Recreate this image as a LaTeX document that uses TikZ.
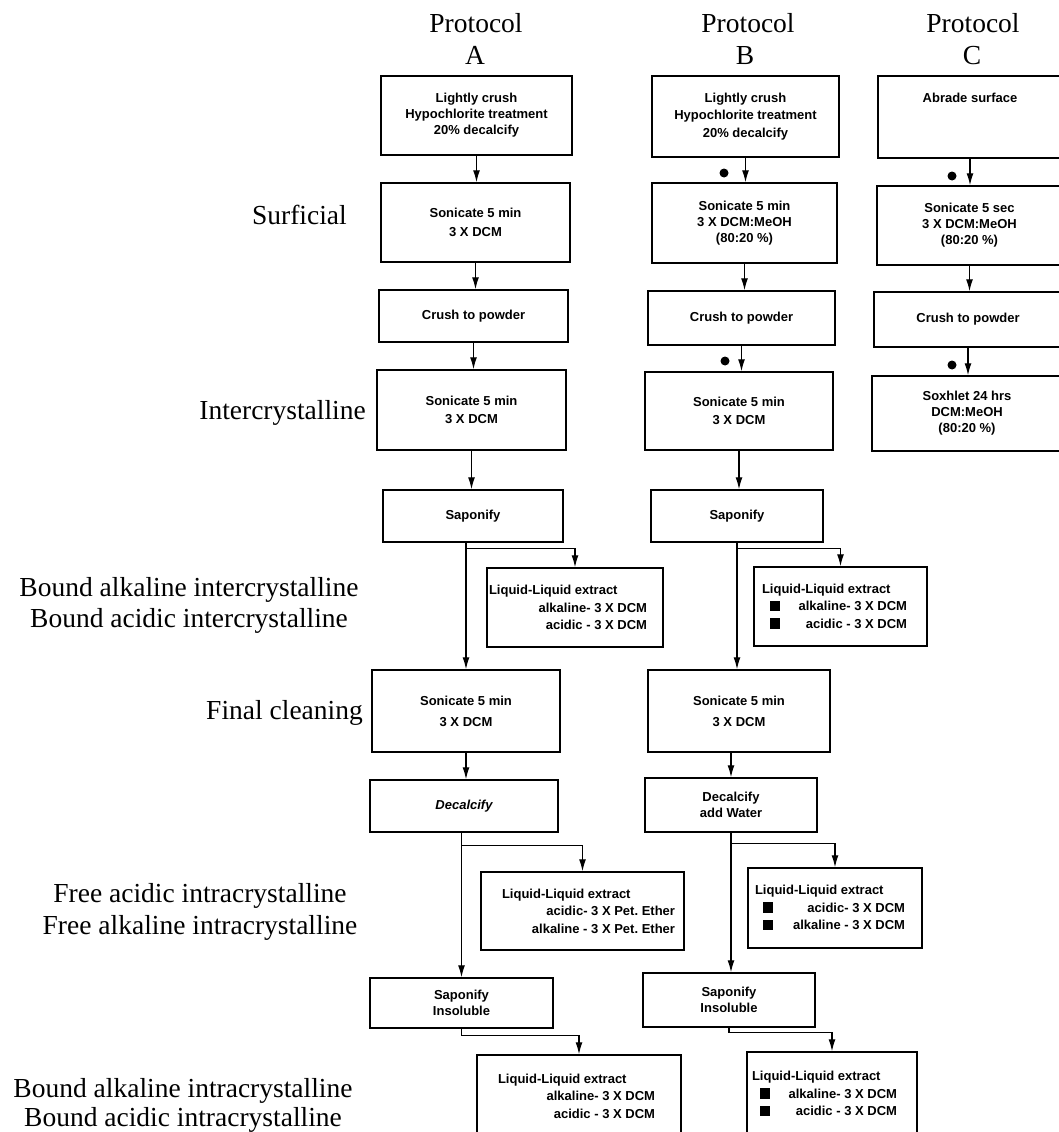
\documentclass[tikz,border=0pt]{standalone}
\usepackage{fontspec}
\usetikzlibrary{arrows.meta,calc}
\newfontfamily\bxfam{Liberation Sans}
\newfontfamily\serfam{Liberation Serif}
\newcommand\bxfont{\bxfam\bfseries\fontsize{13}{16}\selectfont}
\newcommand\llefnt{\bxfam\bfseries\fontsize{13}{17.5}\selectfont}
\newcommand\labfnt{\serfam\fontsize{27.5}{32}\selectfont}
\newcommand\sqm{\rule[-0.5pt]{10pt}{10.5pt}}
\newcommand\llea[6]{\parbox{#1}{\makebox[#1][l]{\hspace{#2}#3}\\\makebox[#1][r]{#5\hspace{#4}}\\\makebox[#1][r]{#6\hspace{#4}}}}
\newcommand\lleb[6]{\parbox{#1}{\makebox[#1][l]{\hspace{#2}Liquid-Liquid extract}\\\makebox[#1][l]{\hspace{#3}\sqm\hfill #5\hspace{#4}}\\\makebox[#1][l]{\hspace{#3}\sqm\hfill #6\hspace{#4}}}}
\tikzset{
  box/.style={draw, line width=1.5pt, rectangle, inner sep=0pt, font=\bxfont, align=center},
  lle/.style={draw, line width=1.5pt, rectangle, inner sep=0pt, font=\llefnt},
  arr/.style={line width=1.2pt, -{Latex[length=12pt,width=7pt]}},
  lab/.style={font=\labfnt, inner sep=0pt},
  dotm/.style={circle, fill, inner sep=0pt, minimum size=9pt}
}
\begin{document}
\begin{tikzpicture}[x=1pt,y=-1pt]
\fill[white] (0,0) rectangle (1058,1132);
\useasboundingbox (0,0) rectangle (1058,1132);

% titles
\node[lab, anchor=base] (tA1) at (476,33) {Protocol};
\node[lab, anchor=base] (tA2) at (475,65) {A};
\node[lab, anchor=base] (tB1) at (748,33) {Protocol};
\node[lab, anchor=base] (tB2) at (745,65) {B};
\node[lab, anchor=base] (tC1) at (973,33) {Protocol};
\node[lab, anchor=base] (tC2) at (972,65) {C};

% left labels
\node[lab, anchor=base east] (lSurf) at (347,224) {Surficial};
\node[lab, anchor=base east] (lInter) at (366,419) {Intercrystalline};
\node[lab, anchor=base] (lBAi) at (189,596) {Bound alkaline intercrystalline};
\node[lab, anchor=base] (lBCi) at (189,627) {Bound acidic intercrystalline};
\node[lab, anchor=base east] (lFinal) at (363,719) {Final cleaning};
\node[lab, anchor=base] (lFA) at (200,902) {Free acidic intracrystalline};
\node[lab, anchor=base] (lFL) at (200,934) {Free alkaline intracrystalline};
\node[lab, anchor=base] (lBAa) at (183,1097) {Bound alkaline intracrystalline};
\node[lab, anchor=base] (lBCa) at (183,1126) {Bound acidic intracrystalline};

% column A
\node[box, minimum width=191pt, minimum height=79pt] (A1) at (476.5,115.5) {Lightly crush\\Hypochlorite treatment\\20\% decalcify};
\node[box, minimum width=189pt, minimum height=79pt] (A2) at (475.5,222.5) {Sonicate 5 min\\[3pt]3 X DCM};
\node[box, minimum width=189pt, minimum height=52pt] (A3) at (473.5,316) {Crush to powder};
\node[box, minimum width=189pt, minimum height=80pt] (A4) at (471.5,410) {Sonicate 5 min\\[2pt]3 X DCM};
\node[box, minimum width=180pt, minimum height=52pt] (A5) at (473,516) {Saponify};
\node[lle, minimum width=176pt, minimum height=79pt] (A6) at (575,607.5) {\llea{176pt}{2pt}{Liquid-Liquid extract}{16pt}{alkaline- 3 X DCM}{acidic - 3 X DCM}};
\node[box, minimum width=188pt, minimum height=82pt] (A7) at (466,711) {Sonicate 5 min\\[5pt]3 X DCM};
\node[box, minimum width=188pt, minimum height=52pt] (A8) at (464,806) {\itshape Decalcify};
\node[lle, minimum width=203pt, minimum height=78pt] (A9) at (582.5,911) {\llea{203pt}{21pt}{Liquid-Liquid extract}{9pt}{acidic- 3 X Pet.\ Ether}{alkaline - 3 X Pet.\ Ether}};
\node[box, minimum width=183pt, minimum height=50pt] (A10) at (461.5,1003) {Saponify\\Insoluble};
\node[lle, minimum width=204pt, minimum height=82pt] (A11) at (579,1096) {\llea{204pt}{21pt}{Liquid-Liquid extract}{26pt}{alkaline- 3 X DCM}{acidic - 3 X DCM}};

% column B
\node[box, minimum width=187pt, minimum height=81pt] (B1) at (745.5,116.5) {Lightly crush\\[1.5pt]Hypochlorite treatment\\[1.5pt]20\% decalcify};
\node[box, minimum width=185pt, minimum height=80pt] (B2) at (744.5,223) {Sonicate 5 min\\3 X DCM:MeOH\\(80:20 \%)};
\node[box, minimum width=187pt, minimum height=54pt] (B3) at (741.5,318) {Crush to powder};
\node[box, minimum width=188pt, minimum height=78pt] (B4) at (739,411) {Sonicate 5 min\\[2pt]3 X DCM};
\node[box, minimum width=172pt, minimum height=52pt] (B5) at (737,516) {Saponify};
\node[lle, minimum width=173pt, minimum height=79pt] (B6) at (840.5,606.5) {\lleb{173pt}{8pt}{16pt}{20pt}{alkaline- 3 X DCM}{acidic - 3 X DCM}};
\node[box, minimum width=182pt, minimum height=82pt] (B7) at (739,711) {Sonicate 5 min\\[5pt]3 X DCM};
\node[box, minimum width=172pt, minimum height=54pt] (B8) at (731,805) {Decalcify\\add Water};
\node[lle, minimum width=174pt, minimum height=80pt] (B9) at (835,908) {\lleb{174pt}{7pt}{15pt}{17pt}{acidic- 3 X DCM}{alkaline - 3 X DCM}};
\node[box, minimum width=172pt, minimum height=54pt] (B10) at (729,1000) {Saponify\\Insoluble};
\node[lle, minimum width=170pt, minimum height=84pt] (B11) at (832,1094) {\lleb{170pt}{5pt}{13pt}{20pt}{alkaline- 3 X DCM}{acidic - 3 X DCM}};

% column C
\node[box, minimum width=184pt, minimum height=82pt] (C1) at (970,117) {\raisebox{14pt}[0pt][0pt]{Abrade surface}};
\node[box, minimum width=185pt, minimum height=79pt] (C2) at (969.5,225.5) {Sonicate 5 sec\\3 X DCM:MeOH\\(80:20 \%)};
\node[box, minimum width=188pt, minimum height=55pt] (C3) at (968,319.5) {Crush to powder};
\node[box, minimum width=190pt, minimum height=75pt] (C4) at (967,413.5) {Soxhlet 24 hrs\\DCM:MeOH\\(80:20 \%)};

% dots
\node[dotm] (dB1) at (724,173) {};
\node[dotm] (dB2) at (725,361) {};
\node[dotm] (dC1) at (952,176) {};
\node[dotm] (dC2) at (952,365) {};

% connectors A
\draw[arr] (A1.south) -- (A1.south |- A2.north);
\draw[arr] (A2.south) -- (A2.south |- A3.north);
\draw[arr] (A3.south) -- (A3.south |- A4.north);
\draw[arr] (A4.south) -- (A4.south |- A5.north);
\draw[arr] (A5.south -| A7.north) -- (A7.north);
\draw[arr] ($(A5.south -| A7.north)+(0,6)$) -| (A6.north);
\draw[arr] (A7.south) -- (A7.south |- A8.north);
\draw[arr] (A8.south -| A10.north) -- (A10.north);
\draw[arr] ($(A8.south -| A10.north)+(0,13)$) -| (A9.north);
\draw[arr] (A10.south) -- ++(0,7) -| (A11.north);

% connectors B
\draw[arr] (B1.south) -- (B1.south |- B2.north);
\draw[arr] (B2.south) -- (B2.south |- B3.north);
\draw[arr] (B3.south) -- (B3.south |- B4.north);
\draw[arr] (B4.south) -- (B4.south |- B5.north);
\draw[arr] (B5.south) -- (B5.south |- B7.north);
\draw[arr] ($(B5.south)+(0,6)$) -| (B6.north);
\draw[arr] (B8.north |- B7.south) -- (B8.north);
\draw[arr] (B8.south) -- (B8.south |- B10.north);
\draw[arr] ($(B8.south)+(0,11)$) -| (B9.north);
\draw[arr] (B10.south) -- ++(0,5) -| (B11.north);

% connectors C
\draw[arr] (C1.south) -- (C1.south |- C2.north);
\draw[arr] (C2.south) -- (C2.south |- C3.north);
\draw[arr] (C3.south) -- (C3.south |- C4.north);
\end{tikzpicture}
\end{document}
